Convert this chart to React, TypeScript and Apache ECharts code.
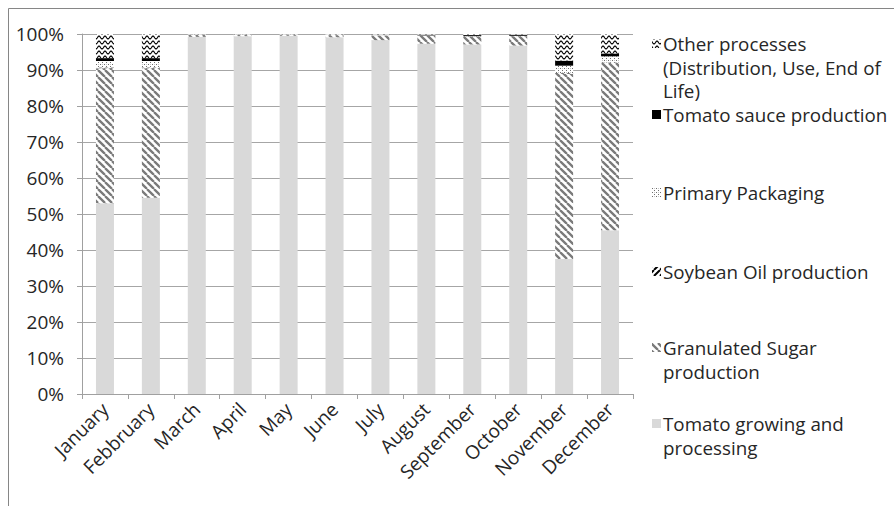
import React, { useEffect, useRef } from "react";
import * as echarts from "echarts";

const months = ["January", "Febbruary", "March", "April", "May", "June", "July", "August", "September", "October", "November", "December"];
const tomatoGrowing = [53.0, 54.5, 99.2, 99.4, 99.5, 99.1, 98.3, 97.3, 97.1, 96.8, 37.5, 45.5];
const granulatedSugar = [37.5, 36.0, 0.6, 0.4, 0.3, 0.6, 1.3, 2.2, 2.2, 2.6, 51.4, 46.5];
const soybeanOil = [0.2, 0.2, 0, 0, 0, 0, 0, 0, 0, 0, 0.2, 0.1];
const primaryPackaging = [1.8, 1.8, 0.1, 0.1, 0.1, 0.1, 0.1, 0.1, 0.1, 0.1, 2.1, 1.7];
const tomatoSauce = [0.8, 0.8, 0, 0, 0, 0, 0.1, 0.2, 0.3, 0.3, 1.4, 0.8];
const otherProcesses = [6.7, 6.7, 0.1, 0.1, 0.1, 0.2, 0.2, 0.2, 0.3, 0.2, 7.4, 5.4];
const yMin = 0;
const yMax = 100;
const yInterval = 10;

const legendLines = [
  ["Other processes", "(Distribution, Use, End of", "Life)"],
  ["Tomato sauce production"],
  ["Primary Packaging"],
  ["Soybean Oil production"],
  ["Granulated Sugar", "production"],
  ["Tomato growing and", "processing"],
];

const FONT = "'Open Sans', 'Noto Sans', sans-serif";

function makeCanvas(w: number, h: number, draw: (c: CanvasRenderingContext2D) => void) {
  const cv = document.createElement("canvas");
  cv.width = w;
  cv.height = h;
  const ctx = cv.getContext("2d")!;
  ctx.fillStyle = "#ffffff";
  ctx.fillRect(0, 0, w, h);
  draw(ctx);
  return cv;
}

export default function App() {
  const ref = useRef<HTMLDivElement>(null);
  useEffect(() => {
    document.body.style.margin = "0";
    if (!ref.current) return;
    const chart = echarts.init(ref.current, null, { renderer: "svg" });

    const sugarCv = makeCanvas(7, 7, (c) => {
      c.strokeStyle = "#7a7a7a";
      c.lineWidth = 2.3;
      c.beginPath();
      for (const o of [-7, 0, 7]) {
        c.moveTo(o, 0);
        c.lineTo(o + 7, 7);
      }
      c.stroke();
    });
    const soyCv = makeCanvas(6, 6, (c) => {
      c.strokeStyle = "#000000";
      c.lineWidth = 2;
      c.beginPath();
      for (const o of [-6, 0, 6]) {
        c.moveTo(o, 6);
        c.lineTo(o + 6, 0);
      }
      c.stroke();
    });
    const packCv = makeCanvas(4, 4, (c) => {
      c.fillStyle = "#6e6e6e";
      c.fillRect(0, 0, 1, 1);
      c.fillRect(2, 2, 1, 1);
      c.fillStyle = "#c8c8c8";
      c.fillRect(2, 0, 1, 1);
    });
    const otherCv = makeCanvas(6, 5, (c) => {
      c.strokeStyle = "#000000";
      c.lineWidth = 1.1;
      c.beginPath();
      for (let i = 0; i <= 24; i++) {
        const x = (i / 24) * 6;
        const y = 2.5 + 1.4 * Math.cos((2 * Math.PI * x) / 6);
        if (i === 0) c.moveTo(x, y);
        else c.lineTo(x, y);
      }
      c.stroke();
    });

    const pat = (cv: HTMLCanvasElement) => ({ image: cv, repeat: "repeat" } as any);
    const fills: any[] = [
      pat(otherCv),
      "#000000",
      pat(packCv),
      pat(soyCv),
      pat(sugarCv),
      "#d9d9d9",
    ];

    const seriesDefs = [
      { name: "Tomato growing and processing", data: tomatoGrowing, color: "#d9d9d9" },
      { name: "Granulated Sugar production", data: granulatedSugar, color: pat(sugarCv) },
      { name: "Soybean Oil production", data: soybeanOil, color: pat(soyCv) },
      { name: "Primary Packaging", data: primaryPackaging, color: pat(packCv) },
      { name: "Tomato sauce production", data: tomatoSauce, color: "#000000" },
      { name: "Other processes (Distribution, Use, End of Life)", data: otherProcesses, color: pat(otherCv) },
    ];

    const firstCenters = [44, 115, 193, 272, 348, 424];
    const lineGap = 23.5;
    const legendGraphics: any[] = [];
    legendLines.forEach((lines, i) => {
      const cy = firstCenters[i];
      legendGraphics.push({
        type: "rect",
        shape: { x: 652, y: cy - 5, width: 9, height: 9 },
        style: { fill: fills[i], stroke: null },
      });
      lines.forEach((t, j) => {
        legendGraphics.push({
          type: "text",
          x: 663,
          y: cy + j * lineGap,
          style: {
            text: t,
            font: `18.8px ${FONT}`,
            fill: "#262626",
            verticalAlign: "middle",
            align: "left",
          },
        });
      });
    });

    chart.setOption({
      animation: false,
      backgroundColor: "#ffffff",
      grid: { left: 82, right: 261, top: 34, bottom: 112, containLabel: false },
      xAxis: {
        type: "category",
        data: months,
        axisLine: { show: true, lineStyle: { color: "#a0a0a0", width: 1 } },
        axisTick: { show: true, length: 5, alignWithLabel: false, lineStyle: { color: "#a0a0a0" } },
        axisLabel: {
          interval: 0,
          rotate: 45,
          margin: 12,
          color: "#262626",
          fontSize: 19,
          fontFamily: FONT,
        },
      },
      yAxis: {
        type: "value",
        min: yMin,
        max: yMax,
        interval: yInterval,
        axisLine: { show: true, lineStyle: { color: "#a0a0a0", width: 1 } },
        axisTick: { show: true, length: 5, inside: false, lineStyle: { color: "#a0a0a0" } },
        splitLine: { show: true, lineStyle: { color: "#a6a6a6", width: 1 } },
        axisLabel: {
          formatter: "{value}%",
          margin: 18,
          color: "#262626",
          fontSize: 19,
          fontFamily: FONT,
        },
      },
      series: seriesDefs.map((s) => ({
        type: "bar",
        name: s.name,
        stack: "total",
        data: s.data,
        barWidth: 18,
        itemStyle: { color: s.color },
        emphasis: { disabled: true },
      })),
      graphic: [
        {
          type: "rect",
          shape: { x: 8.5, y: 8.5, width: 920, height: 540 },
          style: { fill: null, stroke: "#868686", lineWidth: 1 },
          silent: true,
        },
        ...legendGraphics,
      ],
    });
    return () => chart.dispose();
  }, []);
  return <div ref={ref} style={{ width: 894, height: 506 }} />;
}
